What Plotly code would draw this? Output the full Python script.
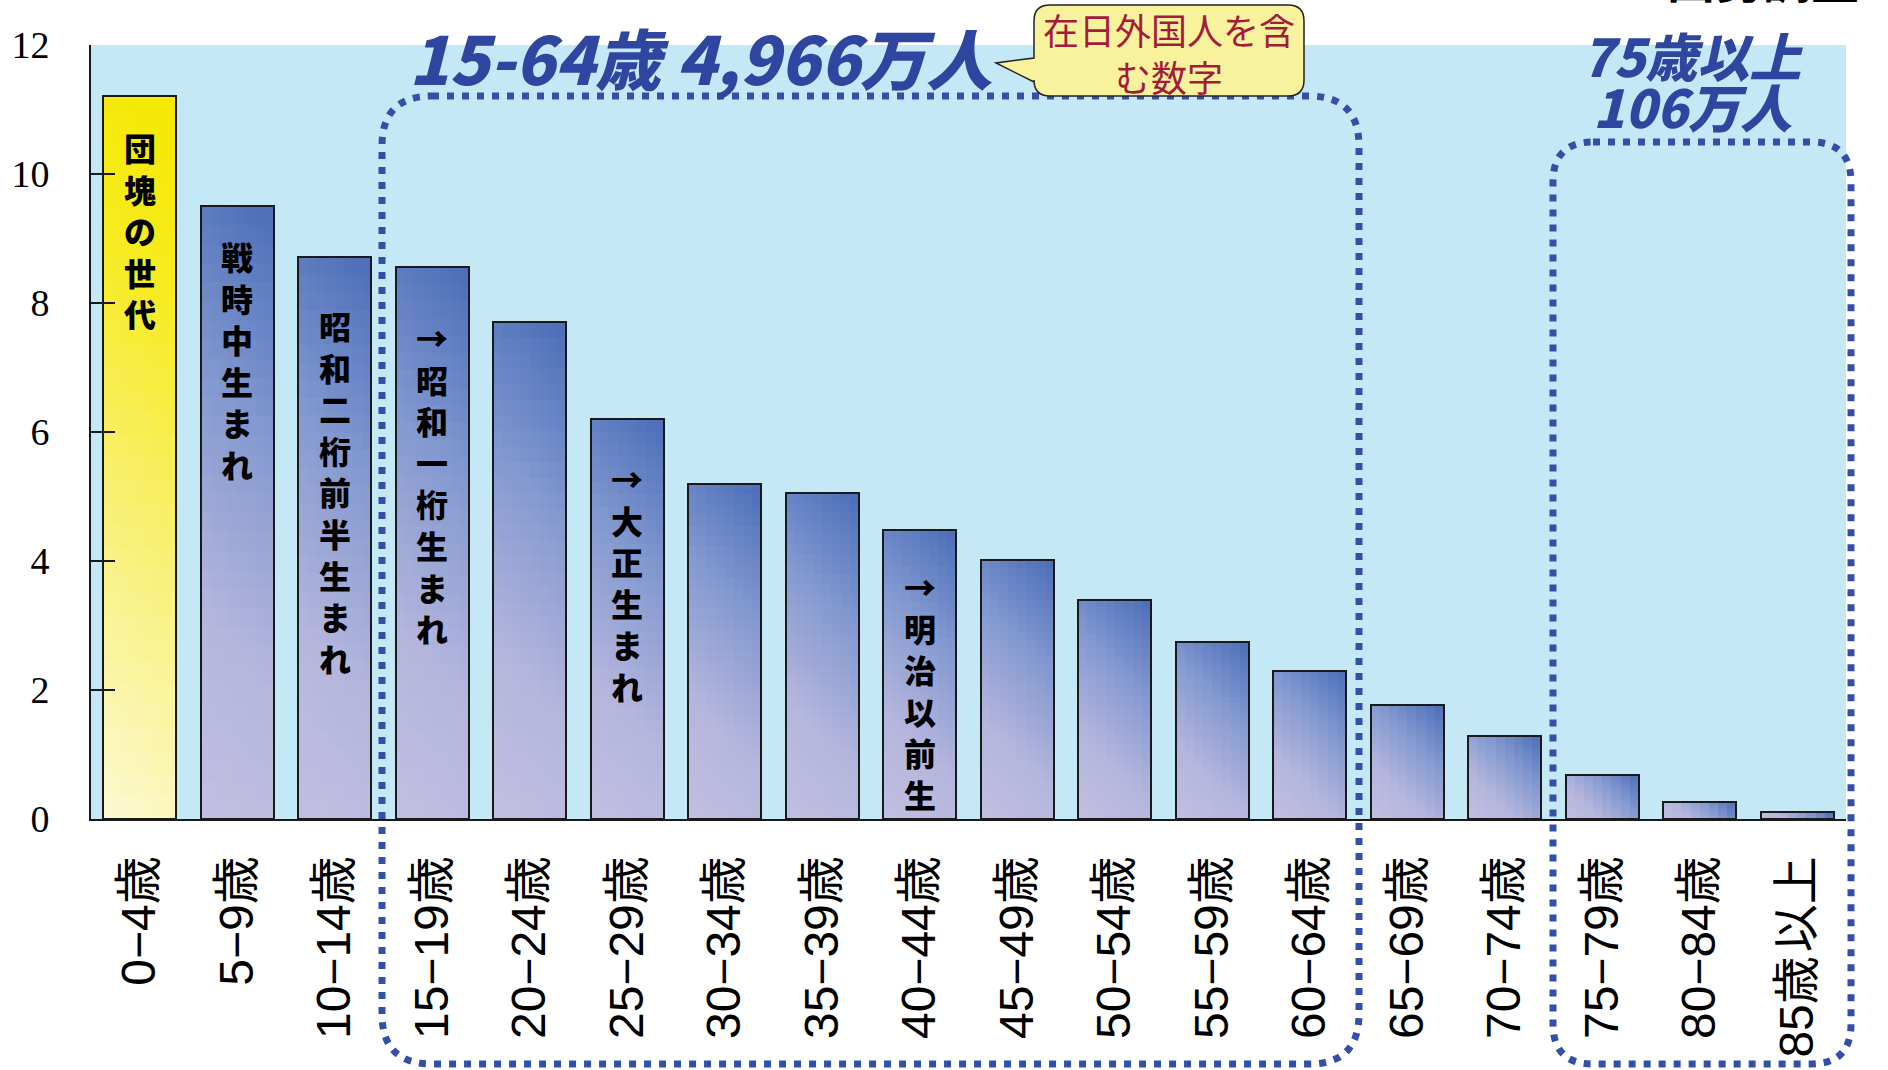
import plotly.graph_objects as go

# 1950 census, population by age (millions)
categories = ["0−4歳", "5−9歳", "10−14歳", "15−19歳", "20−24歳", "25−29歳",
              "30−34歳", "35−39歳", "40−44歳", "45−49歳", "50−54歳", "55−59歳",
              "60−64歳", "65−69歳", "70−74歳", "75−79歳", "80−84歳", "85歳\u200a以上"]
population = [11.21, 9.51, 8.71, 8.56, 7.70, 6.20, 5.20, 5.06, 4.48,
              4.01, 3.40, 2.75, 2.30, 1.76, 1.29, 0.68, 0.27, 0.11]
y_ticks = [0, 2, 4, 6, 8, 10, 12]

gen_bars = [0, 1, 2, 3, 5, 8]
gen_texts = ["団塊の世代", "戦時中生まれ", "昭和二桁前半生まれ",
             "→昭和一桁生まれ", "→大正生まれ", "→明治以前生"]
gen_tops = [10.80, 9.12, 8.05, 7.86, 5.68, 4.00]

title_main = "15-64歳 4,966万人"
title_old = ["75歳以上", "106万人"]
bubble_text = "在日外国人を含<br>む数字"
source_text = "国勢調査"

# page geometry (pixels)
W, H = 1888, 1070
ML, MR, MT, MB = 91, 42, 45, 251
PW = W - ML - MR
PH = H - MT - MB


def px(x):
    return (x - ML) / PW


def py(y):
    return (H - MB - y) / PH


def hex2rgb(h):
    h = h.lstrip('#')
    return [int(h[i:i + 2], 16) for i in (0, 2, 4)]


def interp(stops, s):
    s = min(max(s, 0), 1)
    for (a, ca), (b, cb) in zip(stops[:-1], stops[1:]):
        if s <= b:
            t = (s - a) / (b - a)
            c1, c2 = hex2rgb(ca), hex2rgb(cb)
            return 'rgb(%d,%d,%d)' % tuple(round(c1[i] + (c2[i] - c1[i]) * t) for i in range(3))
    return stops[-1][1]


blue_stops = [(0, '#c1bfe1'), (0.3, '#b5b6dd'), (0.65, '#8399d0'), (1, '#4a6db8')]
yellow_stops = [(0, '#fcf9d4'), (0.45, '#f8ef6a'), (0.75, '#f6eb1e'), (1, '#f5e800')]

fig = go.Figure()

# bars drawn as a grid of cells to get the diagonal gradient
# (each cell overlaps the next one a little to hide seams)
M, N = 8, 32
bw = 0.75
slot_px = PW / len(categories)
w_px = bw * slot_px
unit_px = PH / 12
for k in range(N):
    for j in range(M):
        colors = []
        for i, v in enumerate(population):
            h_px = v * unit_px
            s = ((j + 0.5) / M * w_px + (k + 0.5) / N * h_px) / (w_px + h_px)
            colors.append(interp(yellow_stops if i == 0 else blue_stops, s))
        grow_y = 0.5 if k < N - 1 else 0
        grow_x = 0.5 if j < M - 1 else 0
        fig.add_trace(go.Bar(
            x=categories,
            y=[v / N * (1 + grow_y) for v in population],
            base=[v * k / N for v in population],
            offset=-bw / 2 + j * bw / M, width=bw / M * (1 + grow_x),
            marker=dict(color=colors, line=dict(width=0)),
            hoverinfo='skip', showlegend=False
        ))

fig.add_trace(go.Bar(
    x=categories, y=population, width=bw,
    marker=dict(color='rgba(0,0,0,0)', line=dict(color='#1a1a1a', width=2)),
    hovertemplate='%{x}: %{y}<extra></extra>', showlegend=False
))

# generation labels, one character per line
for i, txt, top in zip(gen_bars, gen_texts, gen_tops):
    fig.add_annotation(
        x=categories[i], y=top, text='<br>'.join(txt), showarrow=False,
        xanchor='center', yanchor='top',
        font=dict(family='Noto Sans CJK JP', size=32, color='black', weight=900)
    )


def rounded_box(x0, y0, x1, y1, r):
    return (f"M {px(x0 + r)},{py(y0)} L {px(x1 - r)},{py(y0)} "
            f"Q {px(x1)},{py(y0)} {px(x1)},{py(y0 + r)} L {px(x1)},{py(y1 - r)} "
            f"Q {px(x1)},{py(y1)} {px(x1 - r)},{py(y1)} L {px(x0 + r)},{py(y1)} "
            f"Q {px(x0)},{py(y1)} {px(x0)},{py(y1 - r)} L {px(x0)},{py(y0 + r)} "
            f"Q {px(x0)},{py(y0)} {px(x0 + r)},{py(y0)} Z")


box_line = dict(color='#3350a8', width=7, dash='7px,8px')
fig.add_shape(type='path', xref='paper', yref='paper',
              path=rounded_box(382, 96, 1359, 1064, 50), line=box_line)
fig.add_shape(type='path', xref='paper', yref='paper',
              path=rounded_box(1553, 142, 1851, 1064, 40), line=box_line)

# speech bubble
bx0, by0, bx1, by1, r = 1034, 5, 1304, 96, 16
bubble = (f"M {px(bx0 + r)},{py(by0)} L {px(bx1 - r)},{py(by0)} "
          f"Q {px(bx1)},{py(by0)} {px(bx1)},{py(by0 + r)} L {px(bx1)},{py(by1 - r)} "
          f"Q {px(bx1)},{py(by1)} {px(bx1 - r)},{py(by1)} L {px(bx0 + r)},{py(by1)} "
          f"Q {px(bx0)},{py(by1)} {px(bx0)},{py(by1 - r)} L {px(bx0)},{py(82)} "
          f"L {px(996)},{py(63)} L {px(bx0)},{py(58)} L {px(bx0)},{py(by0 + r)} "
          f"Q {px(bx0)},{py(by0)} {px(bx0 + r)},{py(by0)} Z")
fig.add_shape(type='path', xref='paper', yref='paper', path=bubble,
              fillcolor='#f8f29c', line=dict(color='#222222', width=1.5))

fig.add_annotation(x=px(1169), y=py(52), xref='paper', yref='paper',
                   xanchor='center', yanchor='middle',
                   text=bubble_text, showarrow=False,
                   font=dict(family='Noto Sans CJK JP', size=36, color='#a31c3e'))

title_font = dict(family='Noto Sans CJK JP', size=66, color='#2e46a0',
                  weight=900, style='italic')
fig.add_annotation(x=px(700), y=py(56), xref='paper', yref='paper',
                   xanchor='center', yanchor='middle',
                   text=title_main, showarrow=False, font=title_font)
old_font = dict(title_font, size=52)
fig.add_annotation(x=px(1692), y=py(54), xref='paper', yref='paper',
                   xanchor='center', yanchor='middle',
                   text=title_old[0], showarrow=False, font=old_font)
fig.add_annotation(x=px(1692), y=py(106), xref='paper', yref='paper',
                   xanchor='center', yanchor='middle',
                   text=title_old[1], showarrow=False, font=old_font)

fig.add_annotation(x=px(1763), y=py(14), xref='paper', yref='paper',
                   xanchor='center', yanchor='bottom', text=source_text,
                   showarrow=False,
                   font=dict(family='Noto Sans CJK JP', size=48, color='black',
                             weight=700))

fig.update_layout(
    width=W, height=H,
    margin=dict(l=ML, r=MR, t=MT, b=MB),
    paper_bgcolor='white', plot_bgcolor='#c4e8f6',
    barmode='overlay', bargap=0,
    font=dict(family='Liberation Sans, Noto Sans CJK JP', color='black'),
    showlegend=False
)
fig.update_xaxes(
    type='category', range=[-0.5, len(categories) - 0.5], automargin=False,
    tickangle=-90, ticks='', ticklabelstandoff=16,
    tickfont=dict(family='Liberation Sans, Noto Sans CJK JP', size=48, color='black'),
    showline=True, linecolor='#1a1a1a', linewidth=2, showgrid=False
)
fig.update_yaxes(
    range=[0, 12], tickvals=y_ticks, ticks='inside', ticklen=24, automargin=False,
    tickwidth=1.5, tickcolor='#1a1a1a', ticklabelstandoff=32,
    tickfont=dict(family='Liberation Serif', size=38, color='black'),
    showline=True, linecolor='#1a1a1a', linewidth=2, showgrid=False,
    zeroline=False
)

fig.write_html("out.html", config={'displayModeBar': False},
               post_script="document.body.style.margin='0';document.body.style.overflow='hidden';")
